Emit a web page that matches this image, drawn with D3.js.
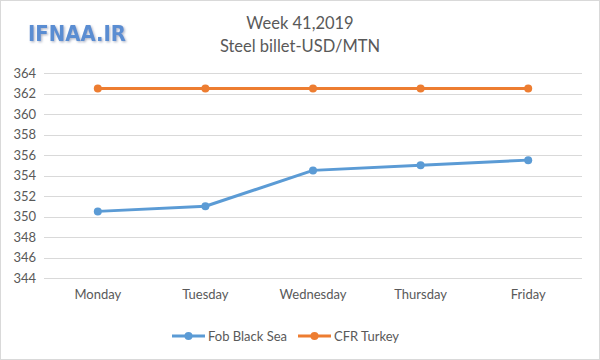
<!DOCTYPE html>
<html><head><meta charset="utf-8">
<script src="https://cdn.jsdelivr.net/npm/d3@7"></script>
<style>body{margin:0;background:#fff}svg{display:block}text{font-family:Lato,"Open Sans",sans-serif}</style>
</head><body><svg id="c" width="600" height="360"></svg>
<script>
const categories = ["Monday","Tuesday","Wednesday","Thursday","Friday"];
const fobBlackSea = [350.5, 351, 354.5, 355, 355.5];
const cfrTurkey = [362.5, 362.5, 362.5, 362.5, 362.5];
const yTicks = [344,346,348,350,352,354,356,358,360,362,364];
const seriesNames = ["Fob Black Sea","CFR Turkey"];
const colors = ["#5b9bd5","#ed7d31"];

const svg = d3.select("#c");
const defs = svg.append("defs");
const f = defs.append("filter").attr("id","sh").attr("x","-10%").attr("y","-30%").attr("width","130%").attr("height","170%");
f.append("feDropShadow").attr("dx",1.2).attr("dy",1.2).attr("stdDeviation",1.2).attr("flood-color","#9aa3b8").attr("flood-opacity",0.8);

svg.append("rect").attr("x",0.5).attr("y",0.5).attr("width",599).attr("height",359).attr("fill","#fff").attr("stroke","#d9d9d9");

const x = d3.scaleBand().domain(categories).range([44,582]);
const y = d3.scaleLinear().domain([344,364]).range([278,73]);

svg.append("g").selectAll("line").data(yTicks).join("line")
  .attr("x1",44).attr("x2",582).attr("y1",d=>Math.round(y(d))+0.5).attr("y2",d=>Math.round(y(d))+0.5)
  .attr("stroke","#d9d9d9").attr("stroke-width",1);

const yAxis = d3.axisLeft(y).tickValues(yTicks).tickSize(0).tickPadding(8);
const gy = svg.append("g").attr("transform","translate(44,0)").call(yAxis);
gy.select(".domain").remove();
gy.selectAll("text").attr("fill","#595959").style("font-size","13px").style("font-family","Lato,sans-serif");

const xAxis = d3.axisBottom(x).tickSize(0).tickPadding(12);
const gx = svg.append("g").attr("transform","translate(0,278)").call(xAxis);
gx.select(".domain").remove();
gx.selectAll("text").attr("fill","#595959").style("font-size","13px").style("font-family","Lato,sans-serif");

const line = d3.line().x((d,i)=>x(categories[i])+x.bandwidth()/2).y(d=>y(d));
[fobBlackSea, cfrTurkey].forEach((s,k)=>{
  svg.append("path").datum(s).attr("d",line).attr("fill","none").attr("stroke",colors[k]).attr("stroke-width",3).attr("stroke-linejoin","round");
  svg.append("g").selectAll("circle").data(s).join("circle")
    .attr("cx",(d,i)=>x(categories[i])+x.bandwidth()/2).attr("cy",d=>y(d)).attr("r",4).attr("fill",colors[k]);
});

// legend
const legX = [172, 298];
seriesNames.forEach((n,k)=>{
  const g = svg.append("g").attr("transform",`translate(${legX[k]},336)`);
  g.append("line").attr("x1",0).attr("x2",33).attr("stroke",colors[k]).attr("stroke-width",3);
  g.append("circle").attr("cx",16.5).attr("r",4).attr("fill",colors[k]);
  g.append("text").attr("x",36).attr("dy","0.35em").attr("fill","#595959").style("font-size","13px").text(n);
});

// title
svg.append("text").attr("x",300).attr("y",29).attr("text-anchor","middle").attr("fill","#595959").style("font-size","16.5px").text("Week 41,2019");
svg.append("text").attr("x",300).attr("y",52).attr("text-anchor","middle").attr("fill","#595959").style("font-size","16.5px").text("Steel billet-USD/MTN");

// logo
svg.append("text").attr("x",28).attr("y",41).attr("fill","#5a8dd2").attr("filter","url(#sh)")
  .attr("textLength",98).attr("lengthAdjust","spacingAndGlyphs")
  .style("font-size","22px").style("font-weight","bold").style("font-family","'DejaVu Sans',sans-serif").text("IFNAA.IR");
</script></body></html>
